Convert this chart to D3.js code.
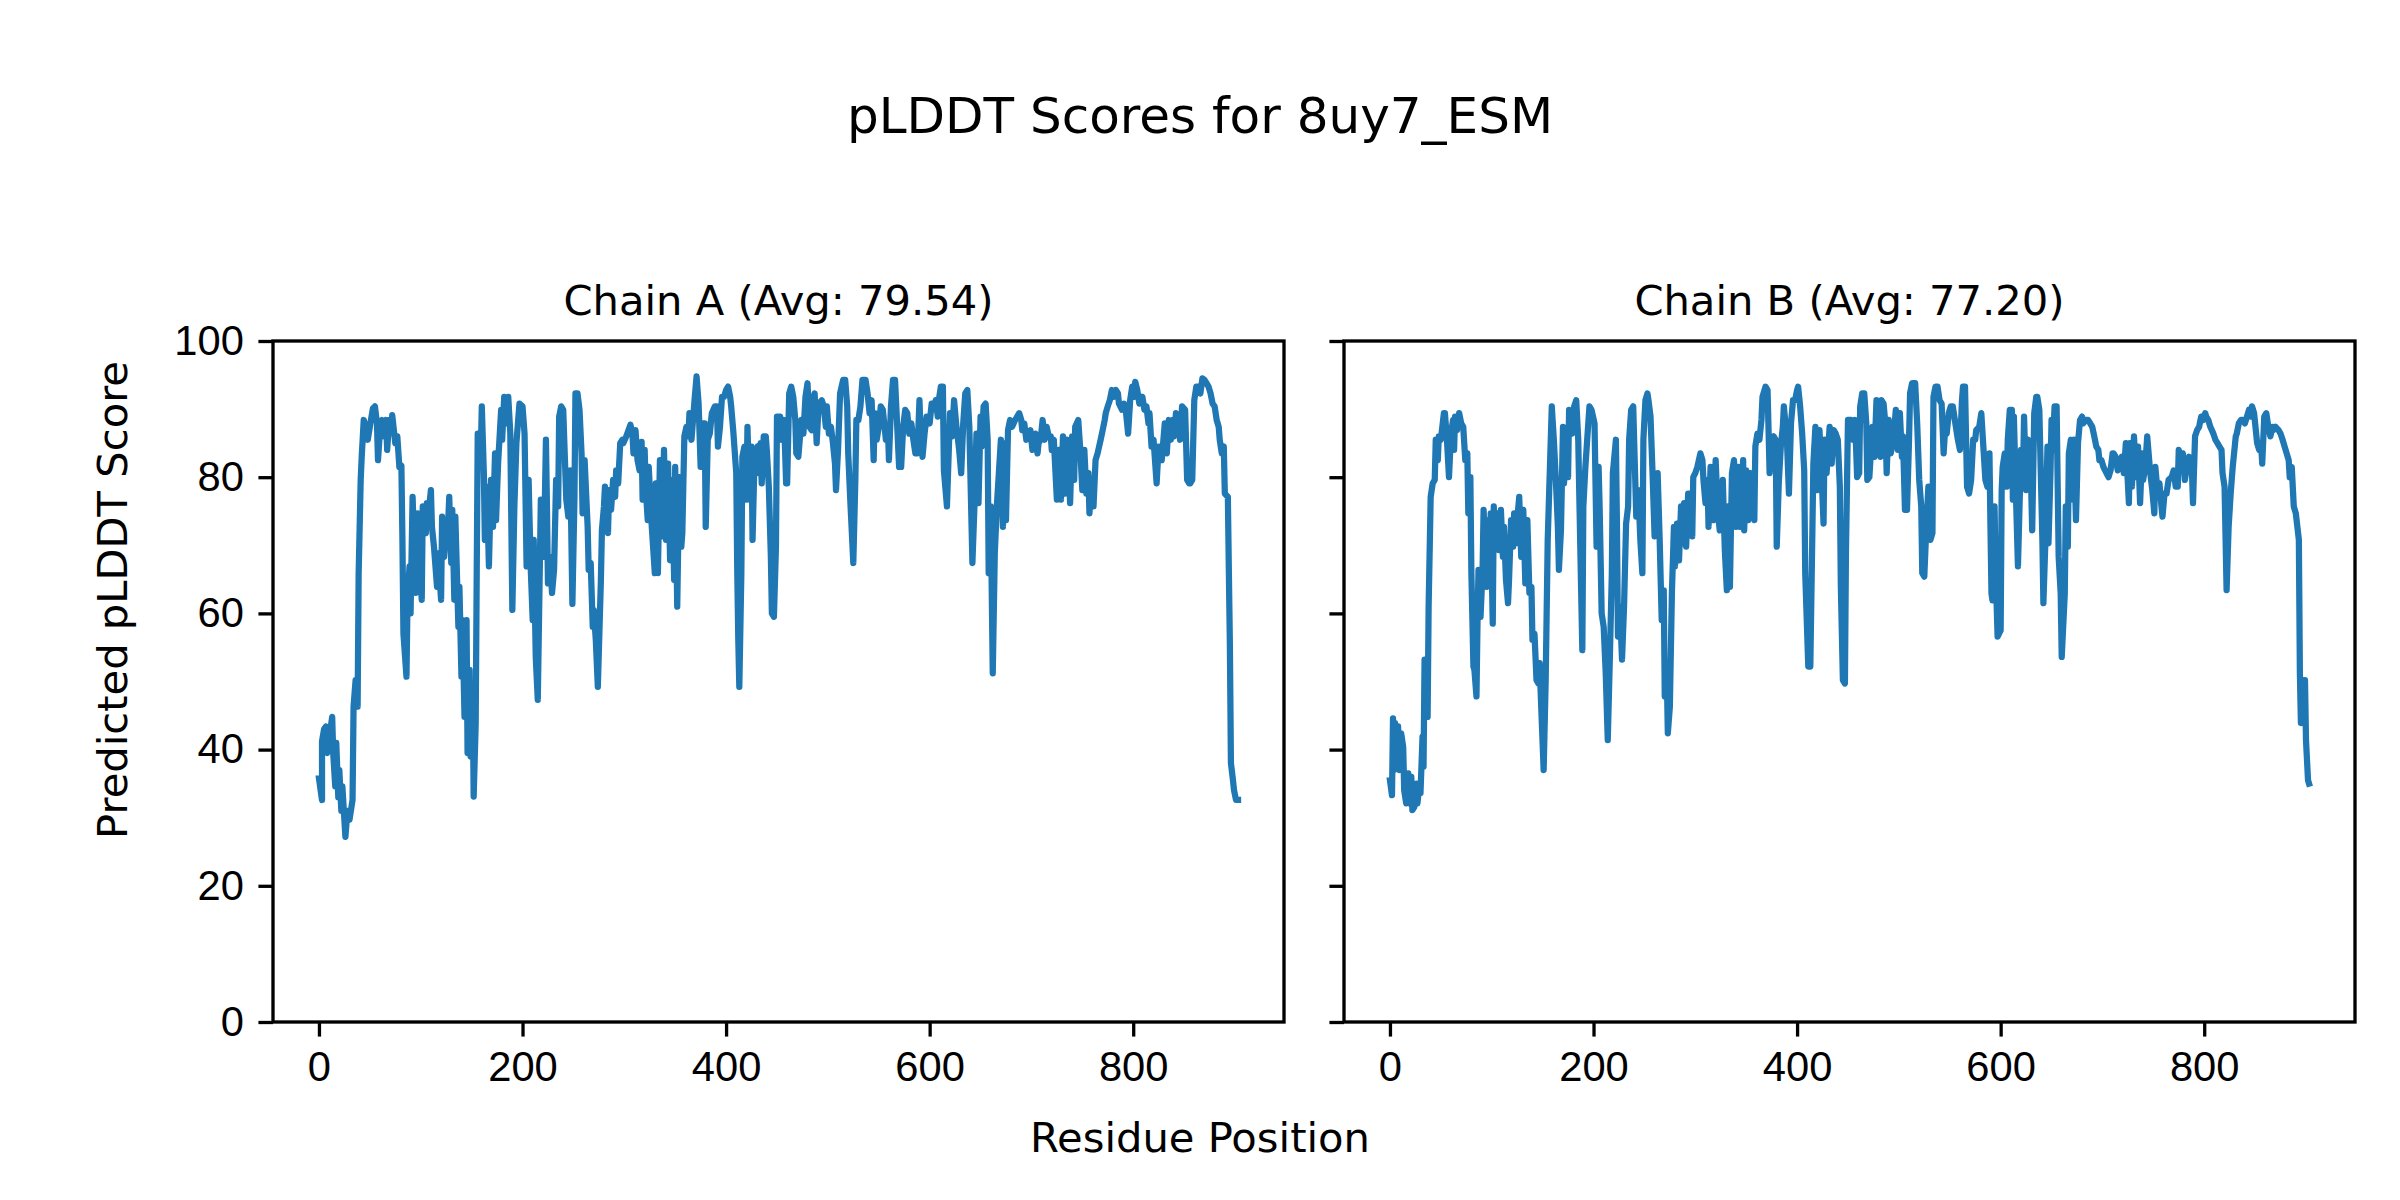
<!DOCTYPE html>
<html lang="en">
<head>
    <meta charset="UTF-8">
    <title>pLDDT Scores for 8uy7_ESM</title>
    <script src="https://d3js.org/d3.v7.min.js"></script>
    <style>
        body { margin: 0; background: #ffffff; }
        svg { display: block; font-family: 'DejaVu Sans', sans-serif; }
        .tick text { font-size: 41.7px; fill: #000; }
        .tick line { stroke: #000; stroke-width: 3.3px; }
    </style>
</head>
<body>
    <svg width="2400" height="1200"></svg>

    <script>
        // DATA (residue position / pLDDT)
        const chainNames = ["Chain A", "Chain B"];
        const chainAvg = [79.54, 77.20];
        const yTicks = [0, 20, 40, 60, 80, 100];
        const xTicks = [0, 200, 400, 600, 800];

        const residueA = [0,3,3,5,7,8,13,14,16,17,19,20,22,23,26,28,30,33,34,36,38,39,41,42,44,46,48,50,53,55,57,58,60,62,64,66,67,69,71,72,75,77,79,81,82,83,86,87,89,90,92,95,97,99,101,102,105,106,108,110,111,113,116,117,120,121,123,125,126,128,130,131,133,134,137,138,140,141,143,145,146,148,149,151,152,154,155,156,159,160,162,163,165,167,169,171,173,174,176,179,180,182,184,186,188,190,192,194,196,197,200,202,204,206,208,210,211,213,215,218,221,223,224,225,227,229,231,233,235,236,238,240,243,245,247,249,251,252,254,256,258,259,261,264,265,267,269,270,272,274,277,278,280,281,284,285,287,289,291,292,294,296,298,
            299,302,306,308,309,311,313,315,317,318,320,321,323,324,327,330,331,333,335,337,339,341,343,345,347,349,350,352,354,356,357,359,361,363,364,366,369,371,373,375,377,379,380,382,384,386,389,391,392,394,396,398,400,402,404,405,407,410,411,412,413,415,416,418,420,421,423,425,426,428,431,432,434,435,437,439,440,442,444,445,447,449,450,453,455,457,459,460,462,464,466,468,469,471,474,476,478,480,482,484,485,487,489,491,494,496,498,499,501,503,505,507,508,510,512,515,517,519,520,522,525,527,528,530,532,534,537,539,541,543,545,546,548,550,552,554,557,559,560,562,564,566,568,570,572,574,576,578,580,582,584,586,588,590,591,593,595,597,600,602,604,606,608,609,611,613,614,617,
            620,622,624,626,629,631,633,635,637,639,642,644,646,648,650,651,653,655,657,658,660,662,664,666,668,670,672,674,675,677,679,681,684,686,688,690,691,693,695,697,699,701,704,706,707,709,711,713,715,717,719,720,722,725,727,729,731,733,735,736,738,740,742,743,746,748,750,752,754,756,757,759,761,763,765,768,770,772,773,775,777,779,781,783,785,786,789,791,793,795,797,799,801,802,804,806,809,811,813,815,816,818,820,823,825,826,828,831,833,835,837,839,840,842,844,846,848,851,853,855,856,858,860,862,864,866,868,870,872,874,876,878,880,882,884,885,887,889,890,893,894,895,896,898,899,901,903];
        const plddtA = [35.8,32.6,41.2,43,43.4,39.5,44.8,39.5,34.6,41,33,37,31,34.6,27.2,31,29.7,32.6,46.3,50.2,46.3,65.9,79.6,83,88.4,87.4,85.5,87.4,90.1,90.4,87.9,82.5,86.9,88.4,86,88.4,84,88.4,87.4,89.1,85,86,81.5,81.7,70.8,57,50.7,62,66.9,60,77.1,63,74.7,66.9,62,75.7,71.8,76.2,75.2,78.1,72.7,69.8,63.9,68.8,62,74.2,68.3,72.7,69.8,77.1,67.4,75.2,62,74.2,58,63.9,50.7,59,44.8,59,39.5,51.7,39,49.7,33.1,43.9,65.9,86.4,83.5,90.4,80.6,70.8,78.6,66.9,79.6,72.7,83.5,73.7,82,89.9,85.5,91.8,87.9,91.8,86.4,60.5,75.7,85,88.9,90.8,90.4,86.4,66.9,79.6,66.9,59,70.8,53.6,47.3,76.7,68.3,85.5,75.7,64.4,68.3,63,66.4,79.6,75.7,88.9,90.4,89.9,76.7,74.2,81,61.4,76.7,92.3,92.3,89.9,83.5,74.7,82.5,72.7,66.4,67.4,58,60.5,56.1,49.2,64.9,72.2,75.7,78.6,71.8,78.1,75.2,79.6,77.1,81,79.1,85,85.5,
            85,86,87.7,86.4,83.5,86.9,82.5,81,85.2,76.7,84,78.6,73.7,81.5,72.7,65.9,79.1,65.9,82.5,71.3,84,70.8,82,67.8,79.6,64.9,81.5,61,80,69.8,71.8,86,87.4,86,89.4,85.5,91.3,94.8,90.8,81.5,87.9,87.9,72.7,85.5,86.4,89.4,90.4,90.4,84.5,87.4,91.8,91.8,92.8,93.3,91.8,90.4,86.9,80.6,65.9,56.1,49.2,65.9,83,84.5,76.7,87.4,76.7,84.5,70.8,83,84.5,80.6,85,79.1,86,86,84,78.6,68.3,60,59.5,69.8,88.9,88.9,85.5,88.4,79.1,79.1,92.3,93.3,91.8,88.4,83.5,83,88.4,86.4,91.8,93.8,87.4,86.9,91.3,92.3,85,90.8,91.3,90.4,87.4,90.4,86.4,87.4,85,82,78.1,84,92.3,94.3,94.3,90.4,83.5,76.7,67.4,79.6,88.4,88.4,90.4,94.3,94.3,92.3,89.4,91.3,82.5,89.4,85.5,87.4,90.4,89.9,85.5,87.4,82.5,90.4,94.3,94.3,87.9,81.5,81.5,87.4,89.9,89.4,86.4,87.9,85.5,83.5,83.5,91.3,86.9,83,86.4,88.9,87.9,90.8,90.4,91.3,88.9,91.3,93.3,93.3,81,75.7,
            89.4,86,91.3,87.9,84,80.6,87.9,92.3,92.8,87.4,67.4,75.7,86.4,76.2,88.9,84.5,90.4,90.8,85.5,65.9,75.7,51.2,68.8,75.7,80.6,85.5,72.7,85,73.7,86.9,88.4,87.4,88.4,88.9,89.4,88.4,86.9,87.9,85.5,86.4,86.9,84,86.4,83.5,85,85.5,88.4,85.5,87.4,86,86,84,85.5,76.7,84,76.7,86,77.6,85.5,84.5,76.2,86,79.6,87.4,88.4,84,78.1,84,77.6,80.6,74.7,79.6,75.7,82.5,83.5,85.5,86.9,88.4,89.4,90.4,91.3,92.8,91.8,92.8,92.3,90.8,89.9,90.8,89.4,86.4,91.3,93.3,91.8,94,92.8,90.8,91.8,89.9,90.4,87.9,89.4,84.5,85.5,79.1,84.5,82.5,82.5,87.9,83.5,88.4,85.5,88.4,86,89.4,88.9,85.5,90.4,89.9,79.6,79.1,79.1,79.6,91.3,93.3,93.3,92.3,94.5,94.3,93.8,93.3,92.3,90.8,90.4,88.4,87.4,85.5,83.5,84.5,77.6,77.1,65.9,55.1,38,35.5,34.1,32.6,32.6];

        const residueB = [0,2,3,4,5,7,8,9,11,13,14,16,18,19,21,22,24,26,27,29,30,32,33,34,36,37,38,40,42,44,45,47,48,50,53,54,56,58,60,62,63,64,66,68,70,72,74,76,77,79,80,82,83,85,86,87,89,91,92,95,96,98,99,101,102,103,105,107,109,111,112,114,116,117,119,121,122,124,125,127,129,131,133,135,137,139,140,142,144,146,147,149,151,153,155,158,159,161,163,165,166,168,170,171,173,175,176,179,181,183,185,187,189,190,192,194,196,198,201,203,205,206,208,210,212,214,216,218,219,222,223,224,226,228,230,232,234,235,237,239,242,244,246,248,249,251,253,254,256,258,260,263,265,267,269,270,272,273,275,277,279,280,282,284,286,288,289,291,293,295,
            297,298,300,302,305,307,308,310,312,313,315,317,318,320,322,324,327,329,331,332,334,336,338,340,342,344,347,348,350,352,354,356,358,359,361,363,365,366,369,371,373,375,377,379,380,382,384,386,387,390,392,394,396,398,400,401,403,405,407,408,411,413,415,416,418,420,422,424,426,427,429,432,434,436,438,440,442,443,445,447,448,450,453,455,457,459,461,462,464,466,468,469,471,474,476,478,480,482,483,485,487,488,490,492,495,497,499,501,503,504,506,508,510,511,513,516,518,520,522,523,525,527,529,531,533,534,536,538,540,542,544,546,547,549,551,553,555,558,560,562,563,565,567,569,571,573,575,576,579,581,583,585,587,589,590,591,592,594,595,597,600,601,602,604,606,607,609,611,612,613,615,617,
            620,622,623,625,627,629,631,633,635,636,638,641,642,644,646,647,649,650,651,653,655,657,659,660,663,664,666,667,669,671,672,674,676,678,680,681,684,686,688,690,692,694,696,697,699,701,704,706,708,710,711,713,715,717,719,721,723,726,727,729,731,733,735,737,739,740,742,744,747,749,751,752,754,756,758,759,761,763,765,768,770,772,774,775,777,779,781,783,785,788,789,791,793,795,797,799,801,802,804,806,809,811,813,815,817,818,820,822,824,826,828,831,832,834,836,838,840,842,844,846,847,849,852,854,856,857,859,861,863,865,867,868,870,873,875,877,879,881,883,884,886,888,890,893,894,895,897,898,899,900,902,903];
        const plddtB = [35.5,33.3,44.6,37,43.9,37.5,43.4,37,42.4,40.4,34,32.1,36.5,32.1,36,31.1,31.6,35,32.1,35,33.6,41.9,37.5,53.2,53.2,44.8,61,77.1,79.1,79.6,85.5,82.5,86,85.5,89.4,89.4,85.5,80,86.4,88.4,84,88.9,86.9,89.4,87.9,87.4,82.5,83.5,74.7,80,65.9,52.2,51.7,47.8,58.5,66.4,59.5,66.4,75.2,63.9,73.7,65.9,74.7,58.5,75.7,69.8,74.7,69.3,75.2,68.3,72.7,64.9,61.5,64.9,73.7,69.8,74.7,70.3,73.7,77.1,68.3,75.2,64.4,73.7,63,63.9,56.1,57,50.2,49.7,52.7,44.8,37,50.2,70.8,85.5,90.4,85.5,79.6,72.7,66.4,72.2,87.4,79.1,84,80,89.9,86.4,90.4,91.3,85.5,69.8,54.6,75.7,81.5,86,90.4,89.9,87.9,69.8,81.5,75.7,60,58,51.2,41.4,53.2,65.9,80.6,85.5,73.2,56.6,61,53.2,61,73.2,75.7,85.5,89.9,90.4,74.2,78.1,70.8,65.9,85.5,91.3,92.3,91.3,88.9,80.6,71.3,80.6,70.8,59,63.4,47.8,51.2,42.4,46.3,62.9,72.7,66.9,73.2,67.8,75.7,70.3,76.2,69.8,77.6,77.6,
            71.3,80,80.6,81.5,83.5,82.5,79.6,76.2,79.6,72.7,81.5,75.2,73.7,82.5,75.2,72.2,79.6,69.3,63.4,75.7,63.9,80.6,82.5,72.7,81.5,72.7,82.5,72.2,81,73.7,80.6,74.7,73.7,84.5,86.4,85.5,88.4,91.8,93.3,92.8,80.6,85.5,86,85.5,69.8,79.1,84.5,87.4,90.4,85.5,77.6,87.9,91.3,91.3,92.8,93.3,90.4,86.4,81,65.9,52.2,52.2,71.8,82,87.4,78.1,86.9,80.6,73.2,85.5,80.6,87.4,82,86.9,86.4,85.5,78.6,63.9,50.2,49.7,68.8,88.4,88.4,85.5,88.4,80,80.6,90.4,92.3,92.3,87.9,79.6,80,87.4,83,91.3,87.4,83,91.3,90.8,87.4,80.6,88.4,83.5,86,89.9,84,89.4,83,86,75.2,75.2,85.5,92.3,93.8,93.8,87.9,79.6,75.7,65.9,65.4,72.7,78.6,70.8,71.8,91.8,93.3,93.3,91.3,90.8,83.5,88.4,86.4,89.4,90.4,90.4,88.4,85.5,84,91.3,93.3,93.3,78.6,77.6,79.6,85.5,85.5,86.9,87.4,89.4,84.5,79.6,78.6,83.5,72.7,62.9,61.9,75.7,66.9,56.6,57.5,78,81.5,83.5,78.6,85.5,89.9,89.9,76.7,88.9,77.6,66.9,
            84,80.6,88.9,78.1,85.5,85,72.2,89.4,91.8,91.8,89.9,70.8,61.5,70.8,84.5,70.3,81,88.4,84,90.4,90.4,68.3,62.9,53.6,62.9,75.7,69.8,83.5,85.5,76.7,85.5,73.7,85,88.4,88.9,87.9,88.4,88.4,87.9,87.4,86,84.5,84,82.5,82.5,81.5,80.6,80,81,83.5,83.5,83,81,81.5,83,80.6,85,76.2,85,78.6,86,80,84.5,76.2,83.5,79.6,81.5,86,80.6,78.1,74.7,81.5,78.1,79.1,75.7,74.2,77.6,77.6,79.6,80,81,78.6,78.6,84,82.5,83.5,79.6,81.5,83,80.6,76.2,86,86.9,87.4,88.9,88.4,89.4,88.9,88.4,87.4,86.4,85.5,85,84.5,84,80.6,78.6,63.4,72.7,77.6,81.5,86,86.4,87.9,88.4,88.4,87.9,88.9,89.9,88.9,90.4,89.4,85,84,84.5,82,88.9,89.4,87.4,86,87.4,86.9,87.4,86.9,86.4,85.5,84.5,83.5,82.5,80,81.5,75.7,74.7,70.8,51.2,43.9,48.8,50.2,50.2,41.4,35.5,35];

        const chains = [
            { residue: residueA, plddt: plddtA },
            { residue: residueB, plddt: plddtB }
        ];
        chains.forEach((c, i) => {
            if (c.residue.length !== c.plddt.length) {
                throw new Error(`chain ${i}: ${c.residue.length} positions vs ${c.plddt.length} scores`);
            }
        });

        // LAYOUT (figure 2400x1200, like matplotlib 8x4 in at dpi 300)
        const svg = d3.select("svg");
        const pt = 300 / 72;
        const fontSize = 10 * pt;
        const panelLeft = [273, 1344];
        const panelWidth = 1011;
        const plotTop = 341, plotBottom = 1022;

        svg.append("rect").attr("width", 2400).attr("height", 1200).attr("fill", "#ffffff");

        // matplotlib style 5% margins on x
        const allX = residueA.concat(residueB);
        const xMin = d3.min(allX), xMax = d3.max(allX);
        const pad = (xMax - xMin) * 0.05;

        const y = d3.scaleLinear().domain([0, 100]).range([plotBottom, plotTop]);

        chains.forEach((c, i) => {
            const x = d3.scaleLinear()
                        .domain([xMin - pad, xMax + pad])
                        .range([panelLeft[i], panelLeft[i] + panelWidth]);

            const g = svg.append("g");

            // x axis
            const xAxis = g.append("g")
                .attr("transform", `translate(0,${plotBottom})`)
                .call(d3.axisBottom(x).tickValues(xTicks).tickSize(3.5 * pt).tickPadding(3.5 * pt));
            xAxis.select(".domain").remove();

            // y axis (shared: labels only on the first panel)
            const yAxis = g.append("g")
                .attr("transform", `translate(${panelLeft[i]},0)`)
                .call(d3.axisLeft(y).tickValues(yTicks).tickSize(3.5 * pt).tickPadding(3.5 * pt));
            yAxis.select(".domain").remove();
            if (i > 0) yAxis.selectAll("text").remove();

            // line
            const line = d3.line()
                .x((d, k) => x(c.residue[k]))
                .y(d => y(d));

            g.append("path")
             .datum(c.plddt)
             .attr("fill", "none")
             .attr("stroke", "#1f77b4")
             .attr("stroke-width", 1.5 * pt)
             .attr("stroke-linejoin", "round")
             .attr("stroke-linecap", "square")
             .attr("d", line);

            // frame
            g.append("rect")
             .attr("x", panelLeft[i])
             .attr("y", plotTop)
             .attr("width", panelWidth)
             .attr("height", plotBottom - plotTop)
             .attr("fill", "none")
             .attr("stroke", "#000")
             .attr("stroke-width", 0.8 * pt);

            // panel title
            g.append("text")
             .attr("x", panelLeft[i] + panelWidth / 2)
             .attr("y", 315)
             .attr("text-anchor", "middle")
             .style("font-size", fontSize + "px")
             .text(`${chainNames[i]} (Avg: ${chainAvg[i].toFixed(2)})`);
        });

        // figure title and labels
        svg.append("text")
           .attr("x", 1200)
           .attr("y", 133)
           .attr("text-anchor", "middle")
           .style("font-size", 12 * pt + "px")
           .text("pLDDT Scores for 8uy7_ESM");

        svg.append("text")
           .attr("x", 1200)
           .attr("y", 1137)
           .attr("text-anchor", "middle")
           .attr("dominant-baseline", "central")
           .style("font-size", fontSize + "px")
           .text("Residue Position");

        svg.append("text")
           .attr("transform", "translate(112,600) rotate(-90)")
           .attr("text-anchor", "middle")
           .attr("dominant-baseline", "central")
           .style("font-size", fontSize + "px")
           .text("Predicted pLDDT Score");
    </script>
</body>
</html>
